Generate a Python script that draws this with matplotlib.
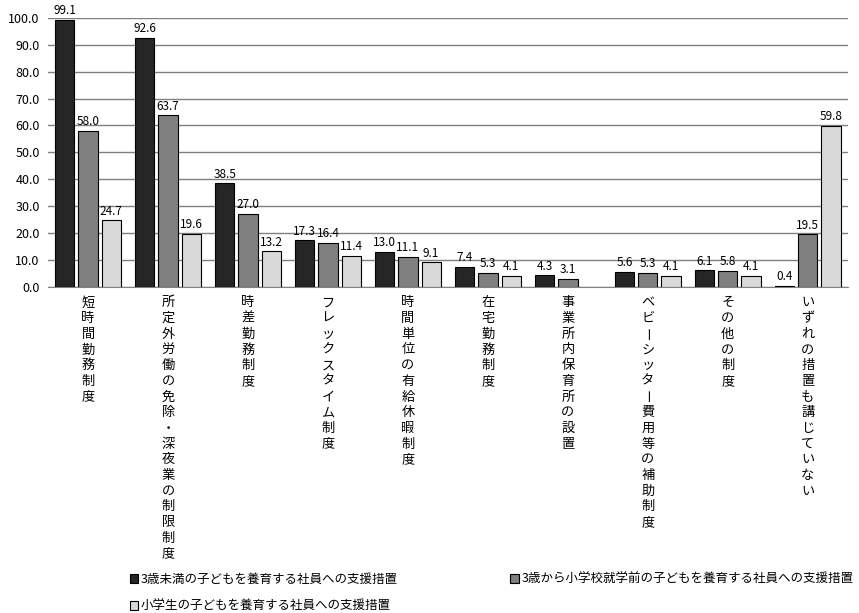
"""Support measures for employees raising children, by type of measure."""

import matplotlib.pyplot as plt
import numpy as np
from matplotlib.transforms import blended_transform_factory, offset_copy

plt.rcParams["font.family"] = ["Noto Sans CJK JP", "DejaVu Sans"]

CATEGORIES = [
    "短時間勤務制度",
    "所定外労働の免除・深夜業の制限制度",
    "時差勤務制度",
    "フレックスタイム制度",
    "時間単位の有給休暇制度",
    "在宅勤務制度",
    "事業所内保育所の設置",
    "ベビーシッター費用等の補助制度",
    "その他の制度",
    "いずれの措置も講じていない",
]

UNDER_3 = [99.1, 92.6, 38.5, 17.3, 13.0, 7.4, 4.3, 5.6, 6.1, 0.4]
AGE_3_TO_SCHOOL = [58.0, 63.7, 27.0, 16.4, 11.1, 5.3, 3.1, 5.3, 5.8, 19.5]
PRIMARY_SCHOOL = [24.7, 19.6, 13.2, 11.4, 9.1, 4.1, np.nan, 4.1, 4.1, 59.8]

SERIES = [
    ("3歳未満の子どもを養育する社員への支援措置", UNDER_3, "#262626"),
    ("3歳から小学校就学前の子どもを養育する社員への支援措置", AGE_3_TO_SCHOOL, "#808080"),
    ("小学生の子どもを養育する社員への支援措置", PRIMARY_SCHOOL, "#d9d9d9"),
]


def main() -> None:
    """The main function."""

    fig = plt.figure(figsize=(8.59, 6.13), dpi=100)
    axes = fig.add_axes([0.056, 0.532, 0.931, 0.439])

    x = np.arange(len(CATEGORIES))
    width = 0.24
    step = 0.29
    handles = []

    for i, (name, values, color) in enumerate(SERIES):
        values = np.array(values, dtype=float)
        bars = axes.bar(
            x + (i - 1) * step,
            np.nan_to_num(values),
            width,
            color=color,
            edgecolor="black",
            linewidth=0.8,
            label=name,
            zorder=3,
        )
        handles.append(bars)
        for bar, value in zip(bars, values):
            if np.isnan(value):
                bar.set_visible(False)
                continue
            axes.annotate(
                f"{value:.1f}",
                (bar.get_x() + bar.get_width() / 2, value),
                xytext=(0, 2),
                textcoords="offset points",
                ha="center",
                va="bottom",
                fontsize=8.5,
            )

    axes.set_xlim(-0.5, len(CATEGORIES) - 0.5)
    axes.set_ylim(0, 100)
    axes.set_yticks(np.arange(0, 101, 10))
    axes.set_yticklabels([f"{t:.1f}" for t in range(0, 101, 10)], fontsize=9)
    axes.set_xticks([])
    axes.tick_params(axis="y", length=0, pad=6)
    axes.grid(axis="y", color="#808080", linewidth=1, zorder=0)
    for side in ("left", "right", "top"):
        axes.spines[side].set_visible(False)
    axes.spines["bottom"].set_color("#808080")

    # Vertical category labels: one character at a time, long vowel mark turned upright.
    base = blended_transform_factory(axes.transData, axes.transAxes)
    char_step = 11.3  # points
    for xi, label in zip(x, CATEGORIES):
        for k, char in enumerate(label):
            upright_bar = char == "ー"
            trans = offset_copy(base, fig=fig, x=-2 if upright_bar else 0,
                                y=-11.5 - k * char_step, units="points")
            axes.text(
                xi, 0, char,
                transform=trans,
                ha="center",
                va="center",
                fontsize=9.5,
                rotation=-90 if upright_bar else 0,
            )

    legend = fig.legend(
        [handles[0], handles[2], handles[1]],
        [SERIES[0][0], SERIES[2][0], SERIES[1][0]],
        ncol=2,
        loc="lower left",
        bbox_to_anchor=(0.145, -0.008),
        borderaxespad=0,
        frameon=False,
        fontsize=9,
        handlelength=0.7,
        handleheight=0.7,
        handletextpad=0.2,
        columnspacing=9.0,
        labelspacing=1.15,
    )
    for patch in legend.get_patches():
        patch.set_linewidth(0.8)

    fig.savefig("out.png", dpi=100)


if __name__ == "__main__":
    main()
